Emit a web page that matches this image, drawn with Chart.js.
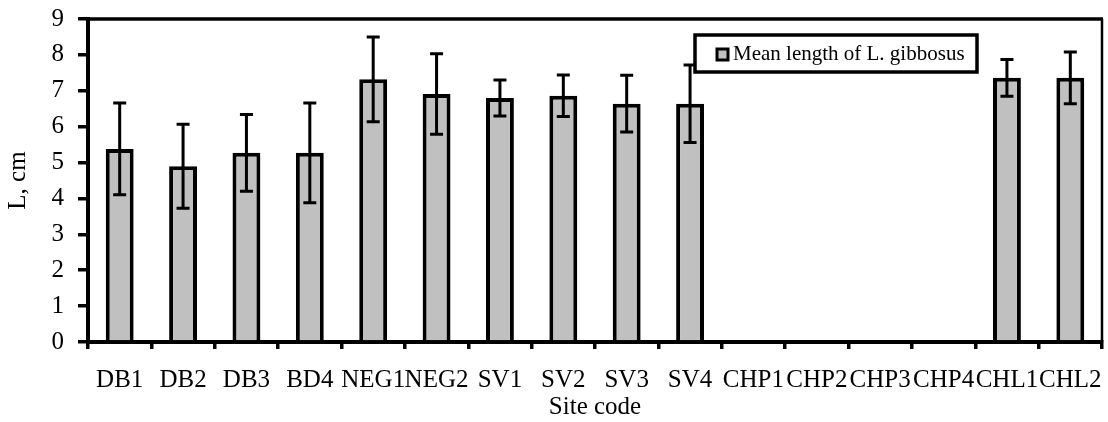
<!DOCTYPE html>
<html>
<head>
<meta charset="utf-8">
<script src="https://cdn.jsdelivr.net/npm/chart.js@4.4.0/dist/chart.umd.min.js"></script>
<style>
html,body{margin:0;padding:0;background:#fff;}
#wrap{width:1108px;height:422px;position:relative;}
</style>
</head>
<body>
<div id="wrap"><canvas id="c" width="1108" height="422"></canvas></div>
<script>
const categories = ["DB1","DB2","DB3","BD4","NEG1","NEG2","SV1","SV2","SV3","SV4","CHP1","CHP2","CHP3","CHP4","CHL1","CHL2"];
const meanLength = [5.38,4.90,5.27,5.27,7.32,6.91,6.80,6.86,6.64,6.64,null,null,null,null,7.36,7.36];
const sdLength   = [1.28,1.17,1.07,1.39,1.18,1.12,0.50,0.58,0.79,1.08,null,null,null,null,0.51,0.72];
const yTicks = [0,1,2,3,4,5,6,7,8,9];
const seriesLabel = "Mean length of L. gibbosus";
const FONT = "'Liberation Serif','Times New Roman',serif";

const frame = {
  id:'frame',
  afterDraw(chart){
    const {ctx, chartArea:a} = chart;
    ctx.save();
    ctx.strokeStyle='#000';
    ctx.lineWidth=3.5;
    ctx.beginPath(); ctx.moveTo(a.left-2,a.top); ctx.lineTo(a.right+1,a.top); ctx.stroke();
    ctx.lineWidth=2.5;
    ctx.beginPath(); ctx.moveTo(a.right,a.top); ctx.lineTo(a.right,a.bottom); ctx.stroke();
    ctx.restore();
  }
};

const errorBars = {
  id:'errorBars',
  afterDatasetsDraw(chart){
    const {ctx} = chart;
    const y = chart.scales.y;
    const meta = chart.getDatasetMeta(0);
    ctx.save();
    ctx.strokeStyle='#000';
    ctx.lineWidth=3;
    meanLength.forEach((m,i)=>{
      if(m==null||sdLength[i]==null) return;
      const x = meta.data[i].x;
      const yt = y.getPixelForValue(m+sdLength[i]);
      const yb = y.getPixelForValue(m-sdLength[i]);
      ctx.beginPath();
      ctx.moveTo(x,yt); ctx.lineTo(x,yb);
      ctx.moveTo(x-6.5,yt); ctx.lineTo(x+6.5,yt);
      ctx.moveTo(x-6.5,yb); ctx.lineTo(x+6.5,yb);
      ctx.stroke();
    });
    ctx.restore();
  }
};

const boxLegend = {
  id:'boxLegend',
  afterDraw(chart){
    const {ctx, chartArea:a} = chart;
    const bx = a.right-407, by = a.top+16, bw = 282, bh = 37;
    ctx.save();
    ctx.fillStyle='#fff';
    ctx.fillRect(bx,by,bw,bh);
    ctx.strokeStyle='#000';
    ctx.lineWidth=3.5;
    ctx.strokeRect(bx,by,bw,bh);
    ctx.fillStyle='#c0c0c0';
    ctx.fillRect(bx+22,by+14,11,11);
    ctx.lineWidth=3;
    ctx.strokeRect(bx+22,by+14,11,11);
    ctx.fillStyle='#000';
    ctx.font = "21px "+FONT;
    ctx.textBaseline='middle';
    ctx.textAlign='left';
    ctx.fillText(seriesLabel,bx+38,by+bh/2+1);
    ctx.restore();
  }
};

new Chart(document.getElementById('c'),{
  type:'bar',
  data:{
    labels:categories,
    datasets:[{
      label:seriesLabel,
      data:meanLength,
      backgroundColor:'#c0c0c0',
      borderColor:'#000',
      borderWidth:4,
      barPercentage:0.44,
      categoryPercentage:1.0
    }]
  },
  options:{
    responsive:false,
    animation:false,
    events:[],
    layout:{padding:{top:19,right:6,left:0,bottom:0}},
    plugins:{legend:{display:false},tooltip:{enabled:false}},
    scales:{
      x:{
        offset:true,
        grid:{display:true,drawOnChartArea:false,drawTicks:true,tickLength:7,color:'#000',lineWidth:3.5,offset:true},
        border:{display:true,color:'#000',width:4},
        ticks:{color:'#000',font:{family:FONT,size:25},padding:16,maxRotation:0,minRotation:0,autoSkip:false},
        title:{display:true,text:'Site code',color:'#000',font:{family:FONT,size:25},padding:{top:0,bottom:0}},
        afterFit(s){s.height=80;s.paddingLeft=0;s.paddingRight=0;}
      },
      y:{
        min:0,max:9,
        afterBuildTicks(s){s.ticks = yTicks.map(v=>({value:v}));},
        grid:{display:true,drawOnChartArea:false,drawTicks:true,tickLength:10,color:'#000',lineWidth:3.5},
        border:{display:true,color:'#000',width:4},
        ticks:{color:'#000',font:{family:FONT,size:25},padding:14},
        title:{display:true,text:'L, cm',color:'#000',font:{family:FONT,size:25},padding:{top:3,bottom:0}},
        afterFit(s){s.width=88;s.paddingTop=0;s.paddingBottom=0;}
      }
    }
  },
  plugins:[frame,errorBars,boxLegend]
});
</script>
</body>
</html>
